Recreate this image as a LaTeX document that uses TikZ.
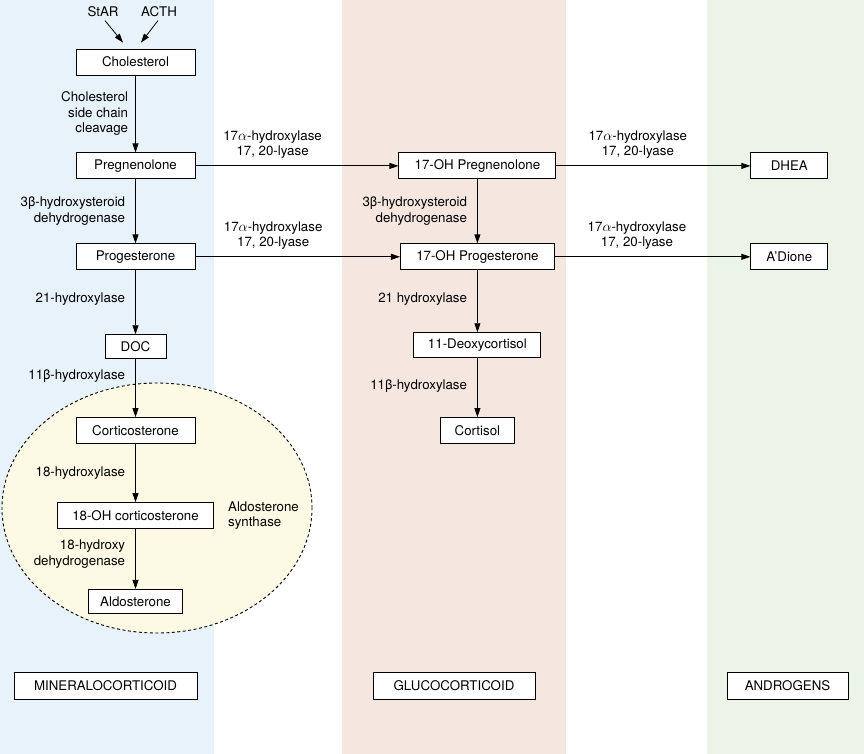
\documentclass[tikz,border=0pt]{standalone}
\usepackage{fontspec}
\setmainfont{TeX Gyre Heros}
\usetikzlibrary{positioning, arrows.meta}
\definecolor{MineralBlue}{RGB}{232, 242, 251}
\definecolor{GlucoPink}{RGB}{245, 230, 224}
\definecolor{AndroGreen}{RGB}{236, 244, 232}
\definecolor{SynthYellow}{RGB}{252, 250, 228}

\begin{document}
\begin{tikzpicture}[x=1pt, y=-1pt, font=\fontsize{13.3}{15.5}\selectfont,
      steroid/.style={rectangle, draw, line width=0.9pt, fill=white, text centered, minimum height=26pt, inner sep=2pt},
      enzyme/.style={align=right, inner sep=2pt},
      enzymetop/.style={align=center, above, inner sep=7pt},
      conv/.style={-{Triangle[length=9pt, width=6pt]}, line width=0.8pt}
    ]
      % hormone class columns
      \fill[MineralBlue] (0,0) rectangle (214,754);
      \fill[GlucoPink] (342,0) rectangle (566,754);
      \fill[AndroGreen] (707,0) rectangle (864,754);
      \useasboundingbox (0,0) rectangle (864,754);
      % aldosterone synthase zone
      \draw[dash pattern=on 3pt off 2.5pt, line width=0.9pt, fill=SynthYellow] (157,508) ellipse [x radius=155pt, y radius=125pt];

      \node (star) at (103,12) {StAR};
      \node (acth) at (159,12) {ACTH};
      \node[steroid, minimum width=119pt] (chol) at (135.5,62) {Cholesterol};
      \node[steroid, minimum width=119pt, below=77pt of chol] (preg) {Pregnenolone};
      \node[steroid, minimum width=119pt, below=64pt of preg] (prog) {Progesterone};
      \node[steroid, minimum width=61pt, minimum height=24pt, below=64pt of prog] (doc) {DOC};
      \node[steroid, minimum width=119pt, below=58pt of doc] (cort) {Corticosterone};
      \node[steroid, minimum width=156pt, below=58pt of cort] (ohcort) {18-OH corticosterone};
      \node[steroid, minimum width=94pt, minimum height=24pt, below=60pt of ohcort] (aldo) {Aldosterone};
      \node[align=left, inner sep=0pt, right=14pt of ohcort] (synth) {Aldosterone\\synthase};

      \node[steroid, minimum width=157pt, right=203pt of preg] (ohpreg) {17-OH Pregnenolone};
      \node[steroid, minimum width=77pt, right=194pt of ohpreg] (dhea) {DHEA};
      \node[steroid, minimum width=154pt, below=64pt of ohpreg] (ohprog) {17-OH Progesterone};
      \node[steroid, minimum width=77pt, below=64pt of dhea] (adione) {A'Dione};
      \node[steroid, minimum width=127pt, minimum height=25pt, below=62pt of ohprog] (deoxy) {11-Deoxycortisol};
      \node[steroid, minimum width=74pt, below=59pt of deoxy] (cortisol) {Cortisol};

      \node[steroid, minimum width=183pt, minimum height=27pt] (mineral) at (105.5,685.5) {MINERALOCORTICOID};
      \node[steroid, minimum width=162pt, minimum height=27pt] (gluco) at (454,685.5) {GLUCOCORTICOID};
      \node[steroid, minimum width=121pt, minimum height=27pt] (andro) at (787.5,685.5) {ANDROGENS};

      \coordinate (starend) at ([xshift=-12.5pt, yshift=6pt]chol.north);
      \coordinate (acthend) at ([xshift=5.5pt, yshift=6pt]chol.north);
      \draw[conv] ([xshift=2pt]star.south) -- (starend);
      \draw[conv] ([xshift=-1pt]acth.south) -- (acthend);

      \draw[conv] (chol) -- node[enzyme, left=5pt] {Cholesterol\\side chain\\cleavage} (preg);
      \draw[conv] (preg) -- node[enzyme, left=8pt] {3β-hydroxysteroid\\dehydrogenase} (prog);
      \draw[conv] (prog) -- node[enzyme, left=8pt, pos=0.45] {21-hydroxylase} (doc);
      \draw[conv] (doc) -- node[enzyme, left=8pt, pos=0.3] {11β-hydroxylase} (cort);
      \draw[conv] (cort) -- node[enzyme, left=8pt] {18-hydroxylase} (ohcort);
      \draw[conv] (ohcort) -- node[enzyme, left=8pt, pos=0.42] {18-hydroxy\\dehydrogenase} (aldo);

      \draw[conv] (ohpreg) -- node[enzyme, left=8pt] {3β-hydroxysteroid\\dehydrogenase} (ohprog);
      \draw[conv] (ohprog) -- node[enzyme, left=8pt, pos=0.47] {21 hydroxylase} (deoxy);
      \draw[conv] (deoxy) -- node[enzyme, left=8pt, pos=0.47] {11β-hydroxylase} (cortisol);

      \draw[conv] (preg) -- node[enzymetop, pos=0.38] {17$\alpha$-hydroxylase\\17, 20-lyase} (ohpreg);
      \draw[conv] (prog) -- node[enzymetop, pos=0.38] {17$\alpha$-hydroxylase\\17, 20-lyase} (ohprog);
      \draw[conv] (ohpreg) -- node[enzymetop, pos=0.42] {17$\alpha$-hydroxylase\\17, 20-lyase} (dhea);
      \draw[conv] (ohprog) -- node[enzymetop, pos=0.42] {17$\alpha$-hydroxylase\\17, 20-lyase} (adione);
    \end{tikzpicture}
\end{document}
